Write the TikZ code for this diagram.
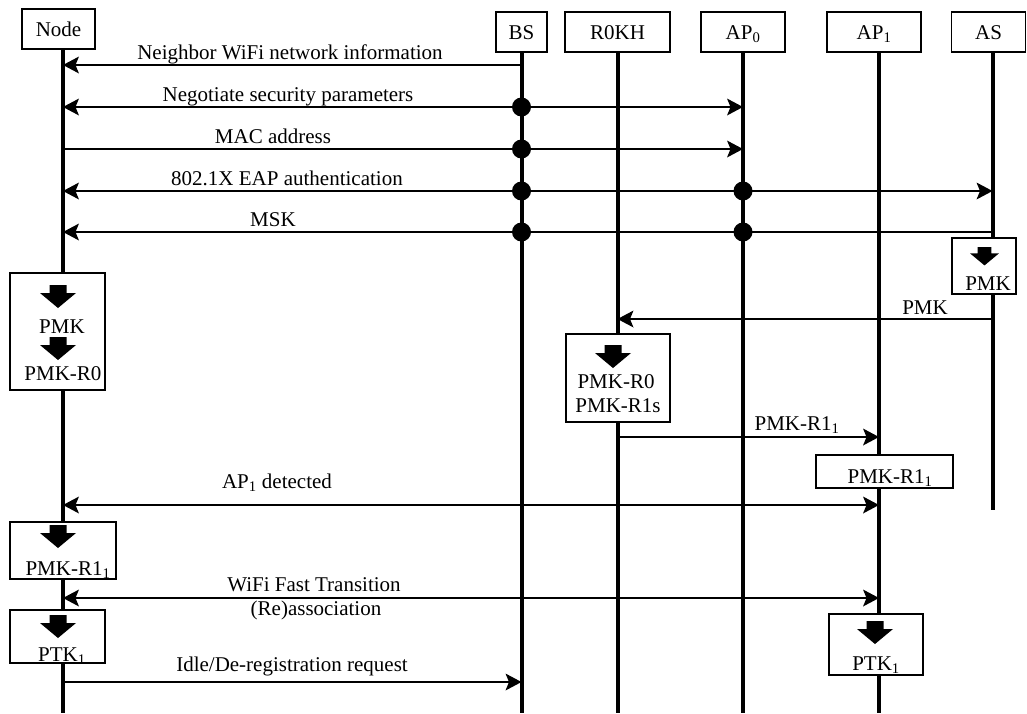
\documentclass[tikz,border=0pt]{standalone}
\usepackage{fontspec}
\setmainfont{Liberation Serif}
\usetikzlibrary{decorations.markings}
\begin{document}
\begin{tikzpicture}[x=1pt,y=-1pt,
  font=\fontsize{21}{25}\selectfont,
  hdr/.style={draw,line width=1.2pt,fill=white,inner sep=0pt,minimum height=40pt,text height=14pt,text depth=0pt},
  life/.style={line width=4pt},
  msg/.style={line width=1.3pt},
  toR/.style={postaction={decorate,decoration={markings,mark=at position 1 with {\fill (0,0) -- (-16,8.5) -- (-12.5,0) -- (-16,-8.5) -- cycle;}}}},
  toL/.style={postaction={decorate,decoration={markings,mark=at position 0 with {\fill (0,0) -- (16,8.5) -- (12.5,0) -- (16,-8.5) -- cycle;}}}},
  toLR/.style={toL,toR},
  dot/.style={circle,fill=black,inner sep=0pt,minimum size=19pt},
  box/.style={draw,line width=1.2pt,fill=white,inner sep=0pt},
  lbl/.style={inner sep=0pt,anchor=base},
  barrow/.pic={\fill (-8.5,0) -- (8.5,0) -- (8.5,8) -- (18,8) -- (0,23) -- (-18,8) -- (-8.5,8) -- cycle;}
]
\useasboundingbox (0,0) rectangle (1027,713);

% header boxes
\node[hdr,minimum width=73pt] (hNode) at (58.5,29) {Node};
\node[hdr,minimum width=51pt] (hBS) at (521.5,32) {BS};
\node[hdr,minimum width=105pt] (hR0KH) at (617.5,32) {R0KH};
\node[hdr,minimum width=84pt] (hAP0) at (743,32) {AP\textsubscript{0}};
\node[hdr,minimum width=94pt] (hAP1) at (874,32) {AP\textsubscript{1}};
\node[hdr,minimum width=74pt] (hAS) at (988.5,32) {AS};

% lifeline ends
\coordinate (eNode) at (63,713);
\coordinate (eBS) at (521.5,713);
\coordinate (eR0KH) at (617.5,713);
\coordinate (eAP0) at (743,713);
\coordinate (eAP1) at (879,713);
\coordinate (eAS) at (992.5,510);

\draw[life] (hNode.south -| eNode) -- (eNode);
\draw[life] (hBS.south -| eBS) -- (eBS);
\draw[life] (hR0KH.south -| eR0KH) -- (eR0KH);
\draw[life] (hAP0.south -| eAP0) -- (eAP0);
\draw[life] (hAP1.south -| eAP1) -- (eAP1);
\draw[life] (hAS.south -| eAS) -- (eAS);

% message end points
\coordinate (m1L) at (63,65);   \coordinate (m1R) at (521.5,65);
\coordinate (m2L) at (63,107);  \coordinate (m2R) at (743,107);
\coordinate (m3L) at (63,149);  \coordinate (m3R) at (743,149);
\coordinate (m4L) at (63,191);  \coordinate (m4R) at (992.5,191);
\coordinate (m5L) at (63,232);  \coordinate (m5R) at (992.5,232);
\coordinate (m6L) at (617.5,319); \coordinate (m6R) at (992.5,319);
\coordinate (m7L) at (617.5,437); \coordinate (m7R) at (879,437);
\coordinate (m8L) at (63,505);  \coordinate (m8R) at (879,505);
\coordinate (m9L) at (63,598);  \coordinate (m9R) at (879,598);
\coordinate (m10L) at (63,682); \coordinate (m10R) at (521.5,682);

\draw[msg,toL] (m1L) -- (m1R);
\draw[msg,toLR] (m2L) -- (m2R);
\draw[msg,toR] (m3L) -- (m3R);
\draw[msg,toLR] (m4L) -- (m4R);
\draw[msg,toL] (m5L) -- (m5R);
\draw[msg,toL] (m6L) -- (m6R);
\draw[msg,toR] (m7L) -- (m7R);
\draw[msg,toLR] (m8L) -- (m8R);
\draw[msg,toLR] (m9L) -- (m9R);
\draw[msg,toR] (m10L) -- (m10R);

% relay dots
\node[dot] (d2) at (521.5,107) {};
\node[dot] (d3) at (521.5,149) {};
\node[dot] (d4a) at (521.5,191) {};
\node[dot] (d4b) at (743,191) {};
\node[dot] (d5a) at (521.5,232) {};
\node[dot] (d5b) at (743,232) {};

% message labels
\node[lbl] (l1) at (290,59) {Neighbor WiFi network information};
\node[lbl] (l2) at (288,101) {Negotiate security parameters};
\node[lbl] (l3) at (273,143) {MAC address};
\node[lbl] (l4) at (287,185) {802.1X EAP authentication};
\node[lbl] (l5) at (273,226) {MSK};
\node[lbl] (l6) at (925,314) {PMK};
\node[lbl] (l7) at (797,430) {PMK-R1\textsubscript{1}};
\node[lbl] (l8) at (277,488) {AP\textsubscript{1} detected};
\node[lbl] (l9a) at (314,591) {WiFi Fast Transition};
\node[lbl] (l9b) at (316,615) {(Re)association};
\node[lbl] (l10) at (292,671) {Idle/De-registration request};

% AS key box
\node[box,minimum width=64pt,minimum height=56pt] (bAS) at (984,266) {};
\pic[scale=0.8] at (984.5,247) {barrow};
\node[lbl] (tAS) at (988,290) {PMK};

% Node key box 1
\node[box,minimum width=95pt,minimum height=117pt] (bN1) at (57.5,331.5) {};
\pic at (58,285) {barrow};
\node[lbl] (tN1a) at (62,333) {PMK};
\pic at (58,337) {barrow};
\node[lbl] (tN1b) at (63,380) {PMK-R0};

% R0KH key box
\node[box,minimum width=104pt,minimum height=88pt] (bR) at (618,378) {};
\pic at (613,345) {barrow};
\node[lbl] (tRa) at (616,388) {PMK-R0};
\node[lbl] (tRb) at (618,412.5) {PMK-R1s};

% AP1 key box 1
\node[box,minimum width=137pt,minimum height=33pt] (bA1) at (884.5,471.5) {};
\node[lbl] (tA1) at (890,483) {PMK-R1\textsubscript{1}};

% Node key box 2
\node[box,minimum width=106pt,minimum height=57pt] (bN2) at (63,550.5) {};
\pic at (58,525) {barrow};
\node[lbl] (tN2) at (68,575) {PMK-R1\textsubscript{1}};

% Node key box 3
\node[box,minimum width=95pt,minimum height=53pt] (bN3) at (57.5,636.5) {};
\pic at (58,615) {barrow};
\node[lbl] (tN3) at (62,661) {PTK\textsubscript{1}};

% AP1 key box 2
\node[box,minimum width=94pt,minimum height=61pt] (bA2) at (876,644.5) {};
\pic at (875,621) {barrow};
\node[lbl] (tA2) at (876,670) {PTK\textsubscript{1}};
\end{tikzpicture}
\end{document}
